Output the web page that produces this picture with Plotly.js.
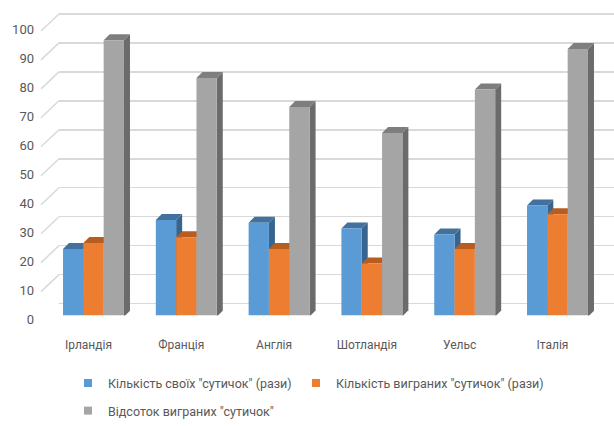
<!DOCTYPE html>
<html>
<head>
<meta charset="utf-8">
<script src="https://cdn.plot.ly/plotly-3.0.1.min.js"></script>
<style>html,body{margin:0;padding:0;background:#fff}#chart{width:614px;height:426px}</style>
</head>
<body>
<div id="chart"></div>
<script>
// ---- data ----
const categories = ['Ірландія', 'Франція', 'Англія', 'Шотландія', 'Уельс', 'Італія'];
const ownBouts = [23, 33, 32, 30, 28, 38];
const wonBouts = [25, 27, 23, 18, 23, 35];
const wonPercent = [95, 82, 72, 63, 78, 92];
const seriesNames = ['Кількість своїх "сутичок" (рази)', 'Кількість виграних "сутичок" (рази)', 'Відсоток виграних "сутичок"'];
const yTicks = [0, 10, 20, 30, 40, 50, 60, 70, 80, 90, 100];

// ---- style ----
const W = 614, H = 426;
const frontColors = ['#5b9bd5', '#ed7d31', '#a5a5a5'];
const topColors = ['#41719c', '#b85d20', '#7e7e7e'];
const sideColors = ['#386590', '#a9551d', '#6b6b6b'];
const gridColor = '#d9d9d9';
const textColor = '#595959';
const FONT = 'Roboto, "Open Sans", sans-serif';

const pxPerUnit = 2.91;      // vertical pixels per value unit
const barZeroPx = 317;       // pixel row of bar bottoms (front)
const wallZeroPx = 305;      // pixel row of back-wall zero line
const labelShift = 16;       // front labels are lower than back wall
const barLeftPx = 47.1, barRightPx = 603.9;
const wallLeftPx = 59, frontLeftPx = 41;
const bargap = 0.343;
const depthDx = 6, depthDy = 6;

const series = [ownBouts, wonBouts, wonPercent];
const idx = categories.map((c, i) => i);
const nSer = series.length;
const groupW = 1 - bargap;
const barW = groupW / nSer;
const pxPerCat = (barRightPx - barLeftPx) / categories.length;
const barWpx = barW * pxPerCat;
const legendIds = ['legend', 'legend2', 'legend3'];

const traces = [];
// legend entries (no data drawn) on wall subplot (x,y)
series.forEach((s, j) => {
  traces.push({
    type: 'scatter', mode: 'markers', x: [null], y: [null], xaxis: 'x', yaxis: 'y',
    name: seriesNames[j], legend: legendIds[j],
    marker: {symbol: 'square', size: 8, color: frontColors[j]},
    hoverinfo: 'skip'
  });
});
// bars on subplot (x2,y2)
series.forEach((s, j) => {
  traces.push({
    type: 'bar', x: idx, y: s, xaxis: 'x2', yaxis: 'y2', name: seriesNames[j],
    showlegend: false, marker: {color: frontColors[j], line: {width: 0}},
    hoverinfo: 'x+y'
  });
});

const shapes = [];
// diagonal connectors at each tick (front label -> back wall)
yTicks.forEach(t => {
  shapes.push({
    type: 'line', xref: 'paper', yref: 'y', ysizemode: 'pixel', yanchor: t,
    x0: frontLeftPx / W, x1: wallLeftPx / W, y0: -labelShift - 1, y1: 0,
    line: {color: gridColor, width: 1.5}, layer: 'below'
  });
});
// 3D faces of bars
categories.forEach((c, i) => {
  series.forEach((s, j) => {
    const v = s[i];
    const left = i - groupW / 2 + j * barW;
    const right = left + barW;
    const hPx = v * pxPerUnit;
    shapes.push({
      type: 'path', xref: 'x2', yref: 'y2', xsizemode: 'pixel', ysizemode: 'pixel',
      xanchor: right, yanchor: v,
      path: `M0,0 L${depthDx},${depthDy} L${depthDx},${depthDy - hPx} L0,${-hPx} Z`,
      fillcolor: sideColors[j], line: {width: 0}, layer: 'below'
    });
    shapes.push({
      type: 'path', xref: 'x2', yref: 'y2', xsizemode: 'pixel', ysizemode: 'pixel',
      xanchor: left, yanchor: v,
      path: `M0,0 L${barWpx},0 L${barWpx + depthDx},${depthDy} L${depthDx},${depthDy} Z`,
      fillcolor: topColors[j], line: {width: 0}, layer: 'below'
    });
  });
});

const legendFont = {family: FONT, size: 12.5, color: textColor};
const layout = {
  width: W, height: H,
  margin: {l: 0, r: 0, t: 0, b: 0},
  paper_bgcolor: '#ffffff', plot_bgcolor: 'rgba(0,0,0,0)',
  font: {family: FONT, color: textColor, size: 12},
  barmode: 'group', bargap: bargap, bargroupgap: 0,
  showlegend: true,
  xaxis: {domain: [wallLeftPx / W, 1], range: [0, 1], visible: false, fixedrange: true},
  yaxis: {
    domain: [(H - wallZeroPx) / H, 1], range: [0, wallZeroPx / pxPerUnit], anchor: 'x',
    tickvals: yTicks, ticktext: yTicks.map(String), showgrid: true, gridcolor: gridColor, gridwidth: 1.5,
    zeroline: true, zerolinecolor: gridColor, zerolinewidth: 1.5, showline: false, ticks: '',
    ticklabelshift: labelShift, ticklabelstandoff: 24,
    tickfont: {family: FONT, size: 13, color: textColor}, fixedrange: true
  },
  xaxis2: {
    domain: [barLeftPx / W, barRightPx / W], range: [-0.5, categories.length - 0.5], anchor: 'y2',
    tickvals: idx, ticktext: categories, showgrid: false, zeroline: false, showline: false, ticks: '',
    ticklabelshift: -5, ticklabelstandoff: 20,
    tickfont: {family: FONT, size: 12, color: textColor}, fixedrange: true
  },
  yaxis2: {
    domain: [(H - barZeroPx) / H, 1], range: [0, barZeroPx / pxPerUnit], anchor: 'x2',
    visible: false, showgrid: false, zeroline: false, fixedrange: true
  },
  legend: {
    orientation: 'h', x: 68 / W, xanchor: 'left', y: 1 - 370 / H, yanchor: 'top',
    font: legendFont, bgcolor: 'rgba(0,0,0,0)'
  },
  legend2: {
    orientation: 'h', x: 296 / W, xanchor: 'left', y: 1 - 370 / H, yanchor: 'top',
    font: legendFont, bgcolor: 'rgba(0,0,0,0)'
  },
  legend3: {
    orientation: 'h', x: 68 / W, xanchor: 'left', y: 1 - 398 / H, yanchor: 'top',
    font: legendFont, bgcolor: 'rgba(0,0,0,0)'
  },
  shapes: shapes
};

Plotly.newPlot('chart', traces, layout, {displayModeBar: false, staticPlot: true});
</script>
</body>
</html>
